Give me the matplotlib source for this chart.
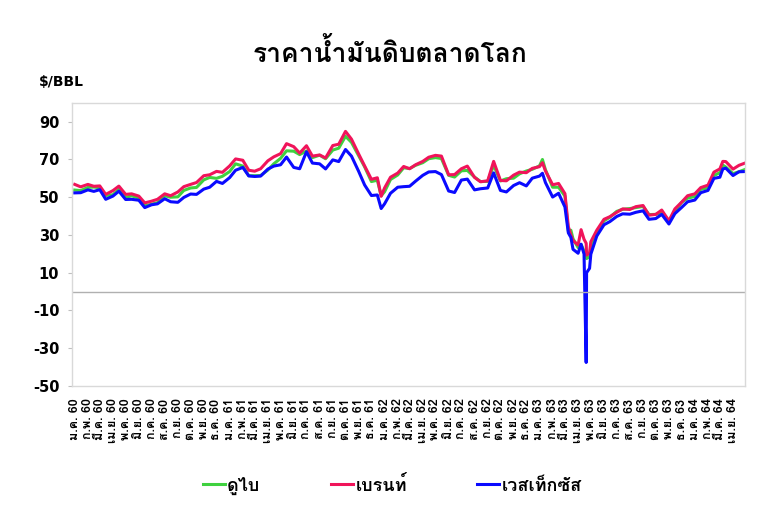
import matplotlib
matplotlib.use('Agg')
import matplotlib.pyplot as plt
import numpy as np
import pandas as pd
from matplotlib import font_manager
from fontTools.ttLib import TTFont

# semi-monthly readings (plus a few extra days around the 2020 crash)
dates = ['2017-01-01', '2017-01-15', '2017-02-01', '2017-02-15', '2017-03-01', '2017-03-15',
         '2017-04-01', '2017-04-15', '2017-05-01', '2017-05-15', '2017-06-01', '2017-06-15',
         '2017-07-01', '2017-07-15', '2017-08-01', '2017-08-15', '2017-09-01', '2017-09-15',
         '2017-10-01', '2017-10-15', '2017-11-01', '2017-11-15', '2017-12-01', '2017-12-15',
         '2018-01-01', '2018-01-15', '2018-02-01', '2018-02-15', '2018-03-01', '2018-03-15',
         '2018-04-01', '2018-04-15', '2018-05-01', '2018-05-15', '2018-06-01', '2018-06-15',
         '2018-07-01', '2018-07-15', '2018-08-01', '2018-08-15', '2018-09-01', '2018-09-15',
         '2018-10-01', '2018-10-15', '2018-11-01', '2018-11-15', '2018-12-01', '2018-12-15',
         '2018-12-24',
         '2019-01-01', '2019-01-15', '2019-02-01', '2019-02-15', '2019-03-01', '2019-03-15',
         '2019-04-01', '2019-04-15', '2019-05-01', '2019-05-15', '2019-06-01', '2019-06-15',
         '2019-07-01', '2019-07-15', '2019-08-01', '2019-08-15', '2019-09-01', '2019-09-15',
         '2019-10-01', '2019-10-15', '2019-11-01', '2019-11-15', '2019-12-01', '2019-12-15',
         '2020-01-01', '2020-01-08', '2020-01-15', '2020-02-01', '2020-02-15', '2020-03-01',
         '2020-03-09', '2020-03-15', '2020-03-20', '2020-04-01', '2020-04-08', '2020-04-15',
         '2020-04-20', '2020-04-21', '2020-04-28', '2020-05-01', '2020-05-15', '2020-06-01',
         '2020-06-15', '2020-07-01', '2020-07-15', '2020-08-01', '2020-08-15', '2020-09-01',
         '2020-09-15', '2020-10-01', '2020-10-15', '2020-11-01', '2020-11-15', '2020-12-01',
         '2020-12-15',
         '2021-01-01', '2021-01-15', '2021-02-01', '2021-02-15', '2021-03-01', '2021-03-08',
         '2021-03-15', '2021-04-01', '2021-04-15', '2021-04-28']

dubai = [53.8, 53.5, 55.2, 55.4, 55.0, 50.9, 51.3, 54.2, 49.9, 50.8, 49.5, 45.4,
         46.3, 47.1, 50.8, 50.0, 50.2, 53.6, 54.9, 55.2, 59.2, 60.5, 60.0, 61.1,
         63.6, 67.7, 66.5, 61.4, 61.4, 61.5, 64.4, 67.7, 70.6, 74.6, 74.4, 72.6,
         74.5, 71.0, 72.3, 70.4, 75.0, 76.0, 82.3, 79.1, 72.0, 66.1, 58.3, 59.0,
         50.8,
         52.9, 59.4, 61.8, 65.6, 65.2, 66.9, 68.3, 70.4, 71.0, 70.5, 61.6, 60.7,
         64.0, 64.2, 60.7, 58.3, 58.4, 67.0, 58.6, 59.8, 60.1, 62.4, 63.9, 64.8,
         66.6, 70.0, 64.6, 55.3, 55.3, 50.6, 32.0, 32.5, 28.0, 23.3, 25.0, 21.5,
         19.0, 17.5, 18.5, 23.5, 31.2, 37.5, 39.4, 42.5, 43.6, 44.0, 44.5, 45.1,
         40.8, 40.9, 41.9, 37.4, 42.5, 47.3, 49.5,
         50.4, 54.2, 55.0, 61.5, 63.0, 67.0, 66.0, 62.5, 63.5, 64.6]

brent = [56.8, 55.5, 56.8, 55.8, 56.0, 51.5, 53.5, 55.9, 51.5, 51.8, 50.6, 47.0,
         47.9, 48.9, 51.8, 50.8, 52.8, 55.6, 56.8, 57.8, 61.4, 61.9, 63.7, 63.2,
         66.6, 70.3, 69.6, 64.3, 63.8, 65.1, 69.3, 71.4, 73.1, 78.4, 76.8, 73.4,
         77.3, 71.8, 72.4, 70.8, 77.4, 78.1, 84.9, 80.8, 72.9, 66.6, 59.5, 60.3,
         50.5,
         54.9, 60.6, 62.8, 66.3, 65.1, 67.2, 69.0, 71.2, 72.2, 71.8, 61.9, 62.0,
         65.1, 66.5, 60.5, 58.2, 58.7, 69.0, 58.9, 58.7, 61.7, 63.3, 63.0, 65.3,
         66.2, 68.3, 64.0, 56.6, 57.3, 51.9, 34.4, 30.0, 27.0, 24.7, 32.8, 27.7,
         25.6, 19.3, 20.5, 26.4, 32.5, 38.3, 39.7, 42.0, 43.8, 43.5, 45.0, 45.6,
         40.5, 40.9, 43.2, 37.5, 43.8, 47.4, 50.8,
         51.8, 55.1, 56.4, 63.3, 65.0, 69.0, 68.9, 64.9, 66.9, 68.0]

wti = [52.3, 52.4, 53.9, 53.1, 54.0, 48.9, 50.6, 53.2, 48.8, 48.9, 48.4, 44.5,
       46.0, 46.5, 49.2, 47.6, 47.3, 49.9, 51.7, 51.5, 54.3, 55.3, 58.4, 57.3,
       60.4, 64.3, 65.8, 61.3, 61.0, 61.2, 64.9, 66.5, 67.2, 71.3, 65.8, 65.1,
       74.1, 68.1, 67.7, 65.0, 69.8, 68.9, 75.3, 71.8, 63.7, 56.5, 50.9, 51.2,
       44.0,
       46.5, 52.1, 55.3, 55.6, 55.8, 58.5, 61.6, 63.4, 63.6, 62.0, 53.3, 52.5,
       59.1, 59.6, 53.9, 54.5, 54.9, 62.9, 53.6, 52.8, 56.2, 57.7, 56.0, 60.1,
       61.2, 62.7, 57.8, 50.1, 52.1, 44.8, 31.1, 28.7, 22.4, 20.3, 25.1, 19.9,
       -37.6, 10.0, 12.3, 19.8, 29.4, 35.4, 37.1, 39.8, 41.2, 41.0, 42.0, 42.8,
       38.3, 38.7, 40.9, 35.8, 41.3, 44.6, 47.6,
       48.5, 52.4, 53.6, 60.0, 60.6, 65.0, 65.4, 61.5, 63.5, 63.6]

series_names = ['ดูไบ', 'เบรนท์', 'เวสเท็กซัส']
series_colors = ['#3fd13f', '#f0145a', '#0a0aff']
thai_months = ['ม.ค.', 'ก.พ.', 'มี.ค.', 'เม.ย.', 'พ.ค.', 'มิ.ย.',
               'ก.ค.', 'ส.ค.', 'ก.ย.', 'ต.ค.', 'พ.ย.', 'ธ.ค.']
yticks = [-50, -30, -10, 10, 30, 50, 70, 90]


def find_thai_font():
    for f in font_manager.fontManager.ttflist:
        try:
            tt = TTFont(f.fname, fontNumber=0, lazy=True)
            if 0x0E01 in tt.getBestCmap():
                return f.name
        except Exception:
            pass
    return 'DejaVu Sans'


thai = find_thai_font()
fams = [thai, 'DejaVu Sans']
plt.rcParams['font.family'] = fams

x = pd.to_datetime(dates)

fig = plt.figure(figsize=(7.8, 5.25), dpi=100)
ax = fig.add_axes([0.092, 0.265, 0.863, 0.539])

for vals, name, col in zip([dubai, brent, wti], series_names, series_colors):
    ax.plot(x, vals, color=col, lw=2.2, label=name)

ax.axhline(0, color='#b0b0b0', lw=1)

ax.set_ylim(-50, 100)
ax.set_yticks(yticks)
ax.set_yticklabels([str(v) for v in yticks], fontsize=10.5, fontweight='bold',
                   family='DejaVu Sans')
ax.tick_params(axis='y', length=3, color='#bfbfbf', pad=6)

mticks = pd.date_range('2017-01-01', '2021-04-01', freq='MS')
ax.set_xticks(mticks)
ax.set_xticklabels([thai_months[d.month - 1] + ' ' + str((d.year + 543) % 100) for d in mticks],
                   rotation=90, fontsize=9, fontweight='bold', family=fams)
ax.tick_params(axis='x', length=0, pad=9)
ax.set_xlim(pd.Timestamp('2016-12-25'), pd.Timestamp('2021-04-29'))

for s in ax.spines.values():
    s.set_color('#d9d9d9')
    s.set_linewidth(1)

fig.text(0.5, 0.9, 'ราคาน้ำมันดิบตลาดโลก', ha='center', va='center',
         fontsize=19, fontweight='bold', family=fams)
fig.text(0.05, 0.843, '$/BBL', ha='left', va='center', fontsize=10,
         fontweight='bold', family='DejaVu Sans')

fig.legend(loc='center', bbox_to_anchor=(0.503, 0.076), ncol=3, frameon=False,
           handlelength=1.2, handletextpad=0.15, columnspacing=3.9,
           prop={'family': fams, 'weight': 'bold', 'size': 13})

fig.savefig('out.png', dpi=100)
